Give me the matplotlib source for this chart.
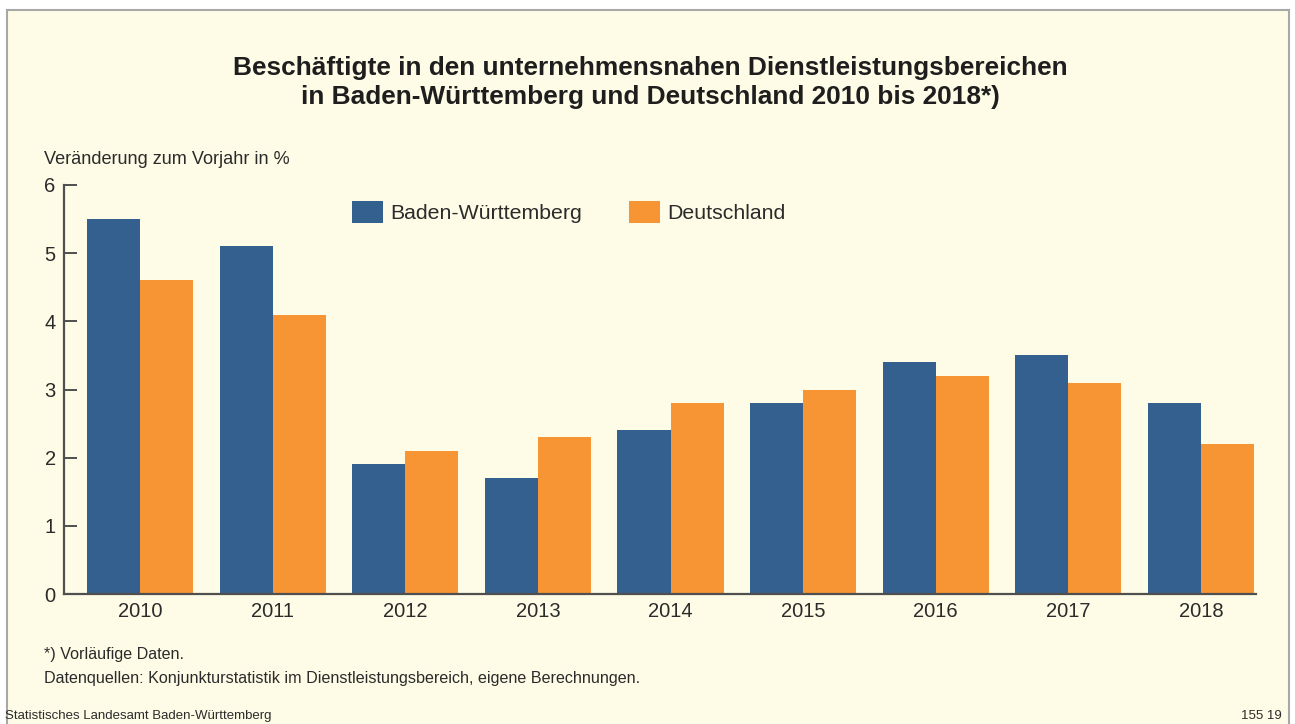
import matplotlib
matplotlib.use("Agg")
import matplotlib.pyplot as plt
from matplotlib.patches import Rectangle
import numpy as np

years = ["2010", "2011", "2012", "2013", "2014", "2015", "2016", "2017", "2018"]
bw = [5.5, 5.1, 1.9, 1.7, 2.4, 2.8, 3.4, 3.5, 2.8]
de = [4.6, 4.1, 2.1, 2.3, 2.8, 3.0, 3.2, 3.1, 2.2]
yticks = [0, 1, 2, 3, 4, 5, 6]

BG = "#FEFCE6"
BLUE = "#34608F"
ORANGE = "#F79433"
TXT = "#2B2B2B"

plt.rcParams['font.family'] = ['Liberation Sans', 'DejaVu Sans']

W, H = 1295, 724
fig = plt.figure(figsize=(W / 100, H / 100), dpi=100, facecolor="white")

# frame
fig.patches.append(Rectangle((7 / W, -0.05), (1289 - 7) / W, (H - 10) / H + 0.05,
                             transform=fig.transFigure, facecolor=BG,
                             edgecolor="#A8A8A8", linewidth=1.5, zorder=-10))

ax = fig.add_axes([64 / W, (H - 594) / H, (1256 - 64) / W, (594 - 185) / H])
ax.set_facecolor("none")
ax.set_zorder(1)

x = np.arange(len(years))
bwidth = 0.4
ax.bar(x - bwidth / 2, bw, width=bwidth, color=BLUE, label="Baden-Württemberg", zorder=2)
ax.bar(x + bwidth / 2, de, width=bwidth, color=ORANGE, label="Deutschland", zorder=2)

ax.set_xlim(-0.574, 8.415)
ax.set_ylim(0, 6)
ax.set_yticks(yticks)
ax.set_yticklabels([str(t) for t in yticks])
ax.set_xticks(x)
ax.set_xticklabels(years)

for s in ["top", "right"]:
    ax.spines[s].set_visible(False)
for s in ["left", "bottom"]:
    ax.spines[s].set_color("#4F4F4F")
    ax.spines[s].set_linewidth(1.6)
    ax.spines[s].set_zorder(3)

ax.tick_params(axis="y", direction="in", length=9, width=1.4, color="#4F4F4F",
               labelsize=14.5, labelcolor=TXT, pad=6)
ax.tick_params(axis="x", length=0, labelsize=14.5, labelcolor=TXT, pad=6)

fs_leg = 15.3
bp = 0.4 * fs_leg * 100 / 72
leg = ax.legend(loc="center left",
                bbox_to_anchor=((352 - bp - 64) / (1256 - 64), (594 - 212) / (594 - 185)),
                ncol=2, frameon=False, fontsize=fs_leg, handlelength=1.45, handleheight=1.2,
                columnspacing=2.2, handletextpad=0.35, borderaxespad=0.0)
for t in leg.get_texts():
    t.set_color(TXT)

fig.text(650 / W, 1 - 68 / H, "Beschäftigte in den unternehmensnahen Dienstleistungsbereichen",
         ha="center", va="center", fontsize=18.9, fontweight="bold", color="#1E1E1E")
fig.text(650 / W, 1 - 97 / H, "in Baden-Württemberg und Deutschland 2010 bis 2018*)",
         ha="center", va="center", fontsize=18.9, fontweight="bold", color="#1E1E1E")

fig.text(44 / W, 1 - 160 / H, "Veränderung zum Vorjahr in %", ha="left", va="center",
         fontsize=13.1, color=TXT)

fig.text(44 / W, 1 - 654 / H, "*) Vorläufige Daten.", ha="left", va="center",
         fontsize=11.6, color=TXT)
fig.text(44 / W, 1 - 678 / H,
         "Datenquellen: Konjunkturstatistik im Dienstleistungsbereich, eigene Berechnungen.",
         ha="left", va="center", fontsize=11.6, color=TXT)

fig.text(5 / W, 1 - 716 / H, "Statistisches Landesamt Baden-Württemberg", ha="left",
         va="center", fontsize=9.5, color=TXT)
fig.text(1282 / W, 1 - 716 / H, "155 19", ha="right", va="center", fontsize=9.5, color=TXT)

fig.savefig("out.png", dpi=100, facecolor="white")
